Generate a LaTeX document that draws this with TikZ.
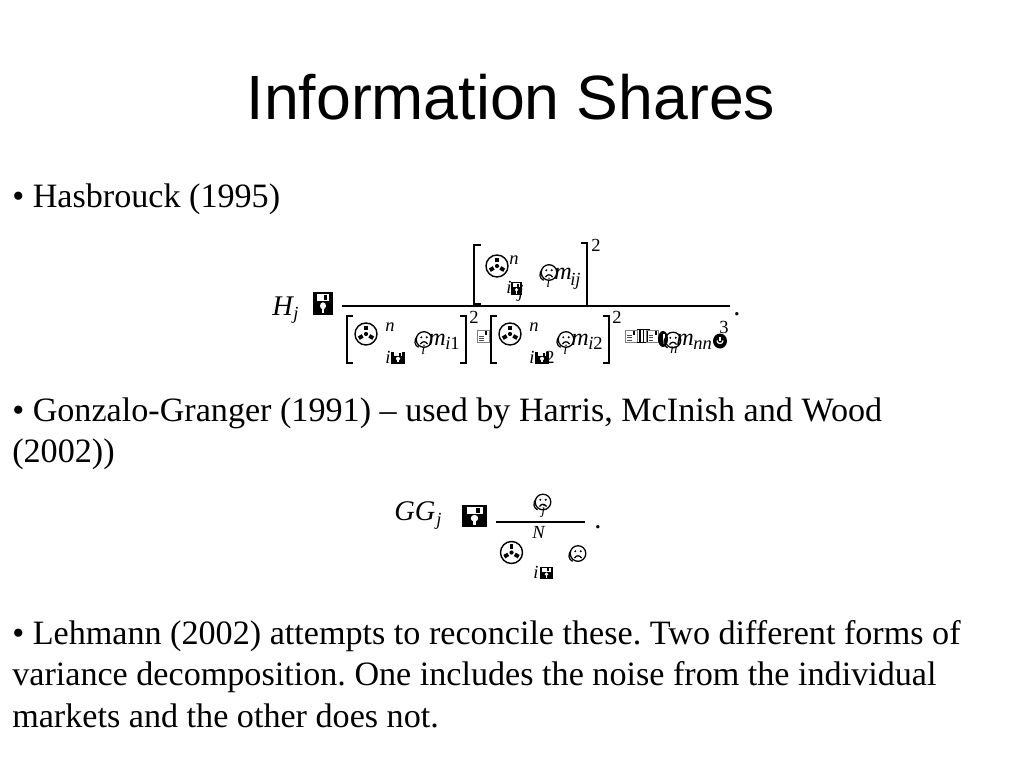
\documentclass[tikz,border=0pt]{standalone}
\usepackage{fontspec}
\setmainfont{Liberation Serif}
\newfontfamily\titlefont{Liberation Sans}
\frenchspacing
\begin{document}
\begin{tikzpicture}[x=0.703125pt,y=-0.703125pt]
\tikzset{
  title/.style={anchor=base,inner sep=0pt,font=\titlefont\fontsize{44}{50}\selectfont},
  body/.style={anchor=base west,inner sep=0pt,font=\fontsize{24}{28}\selectfont},
  mit/.style={anchor=base west,inner sep=0pt,font=\fontsize{20}{24}\selectfont\itshape},
  mm/.style={anchor=base west,inner sep=0pt,font=\fontsize{17}{20}\selectfont\itshape},
  mup/.style={anchor=base west,inner sep=0pt,font=\fontsize{20}{24}\selectfont},
  msm/.style={anchor=base west,inner sep=0pt,font=\fontsize{13}{15}\selectfont\itshape},
  mtiny/.style={anchor=base west,inner sep=0pt,font=\fontsize{10}{12}\selectfont\itshape},
  msup/.style={anchor=base west,inner sep=0pt,font=\fontsize{13}{15}\selectfont},
  brk/.style={line width=1.3pt},
  bar/.style={line width=1.5pt},
  reel/.pic={
    \draw[line width=1pt] (0,0) circle (11);
    \fill (0,0) circle (2.1);
    \foreach \a in {270,30,150} \draw[line width=2.7pt] (\a:3.8) -- (\a:8.3);
  },
  floppy/.pic={
    \fill (-0.5,-0.5) rectangle (0.5,0.5);
    \fill[white] (-0.32,-0.42) rectangle (0.32,-0.1);
    \fill (0.06,-0.38) rectangle (0.2,-0.14);
    \fill[white] (0,0.1) circle (0.15);
    \fill[white] (-0.065,0.1) rectangle (0.065,0.4);
  },
  sad/.pic={
    \draw[line width=0.9pt] (0,0) circle (7.8);
    \fill (-2.7,-2.2) circle (1.1);
    \fill (2.7,-2.2) circle (1.1);
    \draw[line width=0.9pt] (-3.6,4.6) .. controls (-1.7,1.5) and (1.7,1.5) .. (3.6,4.6);
    \draw[line width=0.9pt] (-7.4,-2.4) .. controls (-10,1) and (-9.6,6) .. (-5.4,7.8);
  },
  envicon/.pic={
    \draw[gray,line width=0.5pt] (-6,-6) rectangle (6,6);
    \draw[gray!60!black,line width=0.5pt] (-4,-0.5) -- (0.5,-0.5) (-4,1.8) -- (0.5,1.8) (-4,4) -- (0.5,4);
    \fill (2.2,-5.5) rectangle (4,-1.5);
  },
  column/.pic={
    \fill (-6.5,-7) rectangle (6.5,-5.6);
    \fill (-6.5,5.6) rectangle (6.5,7);
    \fill (-4.5,-5.6) rectangle (-2.2,5.6);
    \fill (2.2,-5.6) rectangle (4.5,5.6);
    \fill (-0.4,-5.6) rectangle (0.4,5.6);
  },
  blob/.pic={
    \fill (0,0) ellipse (5 and 8);
    \draw[white,line width=1pt] (1,-5) -- (1,5);
  },
  endglyph/.pic={
    \fill (0,1.5) ellipse (7 and 7.5);
    \draw[white,line width=0.9pt] (-3,1) .. controls (-3,5) and (3,5) .. (3,1);
    \fill[white] (-0.8,-3) rectangle (0.8,1);
  }
}
% background
\fill[white] (0,0) rectangle (1024,768);

% title and body text
\node[title] (ttl) at (511,120) {Information Shares};
\node[body] (t1) at (12,208) {\textbullet{} Hasbrouck (1995)};
\node[body] (t2) at (12,421) {\textbullet{} Gonzalo-Granger (1991) – used by Harris, McInish and Wood};
\node[body] (t3) at (12,462) {(2002))};
\node[body] (t4) at (12,644) {\textbullet{} Lehmann (2002) attempts to reconcile these. Two different forms of};
\node[body] (t5) at (12,685) {variance decomposition. One includes the noise from the individual};
\node[body] (t6) at (12,727) {markets and the other does not.};

% ---------- Hasbrouck formula ----------
\node[mit] (H) at (272,315) {H};
\node[msm] (Hj) at (293,320) {j};
\pic[xscale=20,yscale=23] at (323,303.5) {floppy};
\coordinate (fb1l) at (342,306);
\coordinate (fb1r) at (730,306);
\draw[bar] (fb1l) -- (fb1r);
\node[mup] (dot1) at (733,316) {.};

% numerator
\draw[brk] (481,245) -- (474,245) -- (474,304) -- (481,304);
\pic at (497,266) {reel};
\node[msm] (nn1) at (509,265) {n};
\node[msm] (ni1) at (506,293) {i};
\pic[xscale=11,yscale=13] at (516.5,288.5) {floppy};
\node[msm] (nj1) at (518,297) {j};
\pic at (549,272.5) {sad};
\node[mtiny] (nps1) at (546,288) {i};
\node[mm] (nm1) at (554,280) {m};
\node[msm] (nij) at (570,285) {ij};
\draw[brk] (581,243) -- (587,243) -- (587,306) -- (581,306);
\node[msup] (ns2) at (591,252) {2};

% denominator group 1
\draw[brk] (353,316) -- (347,316) -- (347,363) -- (353,363);
\pic at (366,334) {reel};
\node[msm] (dn1) at (385,331) {n};
\node[msm] (di1) at (385,363) {i};
\pic[xscale=14,yscale=12] at (398,357.5) {floppy};
\pic at (424,339.5) {sad};
\node[mtiny] (dps1) at (421,354) {i};
\node[mm] (dm1) at (428,346) {m};
\node[msm] (di11) at (445,349) {i\textup{1}};
\draw[brk] (460,316) -- (466,316) -- (466,363) -- (460,363);
\node[msup] (ds1) at (469,323) {2};
\pic at (483,336.5) {envicon};

% denominator group 2
\draw[brk] (497,316) -- (491,316) -- (491,363) -- (497,363);
\pic at (510,334) {reel};
\node[msm] (dn2) at (529,331) {n};
\node[msm] (di2) at (529,363) {i};
\pic[xscale=14,yscale=12] at (542,357.5) {floppy};
\node[msup] (dtwo) at (545,363) {2};
\pic at (566,339.5) {sad};
\node[mtiny] (dps2) at (563,354) {i};
\node[mm] (dm2) at (571,346) {m};
\node[msm] (di22) at (588,349) {i\textup{2}};
\draw[brk] (603,316) -- (609,316) -- (609,363) -- (603,363);
\node[msup] (ds2) at (612,323) {2};

% denominator tail
\pic at (631,336) {envicon};
\pic at (643.5,336) {column};
\pic at (652.5,336) {envicon};
\pic at (663,339) {blob};
\pic at (673,340) {sad};
\node[mtiny] (dpsn) at (670,353) {n};
\node[mm] (dm3) at (676,346) {m};
\node[msm] (dnn) at (693,349) {nn};
\pic at (720,339.5) {endglyph};
\node[msup] (ds3) at (719,334) {3};

% ---------- Gonzalo-Granger formula ----------
\node[mit] (GG) at (394,520) {GG};
\node[msm] (GGj) at (436,525) {j};
\pic[xscale=25,yscale=22] at (474.5,516) {floppy};
\coordinate (fb2l) at (496,522);
\coordinate (fb2r) at (585,522);
\draw[bar] (fb2l) -- (fb2r);
\node[mup] (dot2) at (594,528) {.};
\pic at (543,502) {sad};
\node[mtiny] (gnj) at (541,514) {j};
\pic at (511.5,552.5) {reel};
\node[msm] (gN) at (532,538) {N};
\node[msm] (gi) at (533,578) {i};
\pic[xscale=13,yscale=12] at (546.5,573) {floppy};
\pic at (578,553.5) {sad};
\end{tikzpicture}
\end{document}
